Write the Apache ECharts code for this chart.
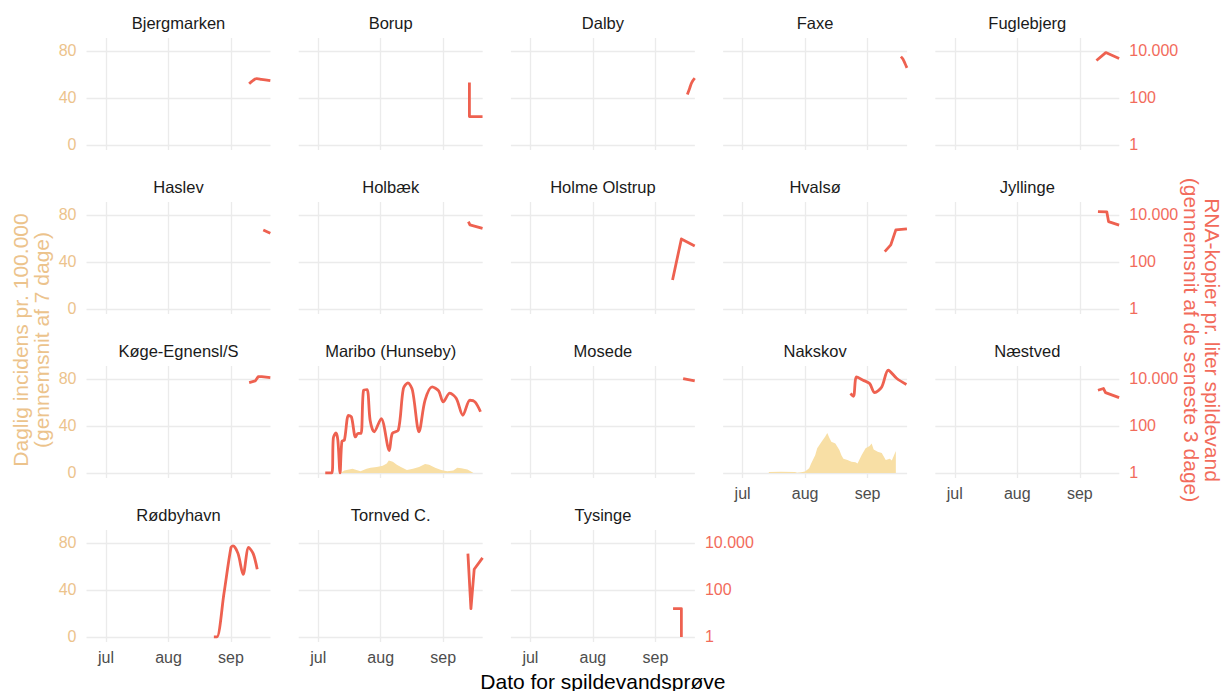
<!DOCTYPE html>
<html>
<head>
<meta charset="utf-8">
<script src="https://cdn.jsdelivr.net/npm/echarts@6/dist/echarts.min.js"></script>
<style>
  html, body { margin: 0; padding: 0; background: #ffffff; }
  #chart { width: 1227px; height: 691px; }
</style>
</head>
<body>
<div id="chart"></div>
<script>
// ---- data -----------------------------------------------------------------
const stations = [
  'Bjergmarken', 'Borup', 'Dalby', 'Faxe', 'Fuglebjerg',
  'Haslev', 'Holbæk', 'Holme Olstrup', 'Hvalsø', 'Jyllinge',
  'Køge-Egnensl/S', 'Maribo (Hunseby)', 'Mosede', 'Nakskov', 'Næstved',
  'Rødbyhavn', 'Tornved C.', 'Tysinge'
];

const monthTicks = ['2021-07-01', '2021-08-01', '2021-09-01'];
const monthNames = ['jan', 'feb', 'mar', 'apr', 'maj', 'jun', 'jul', 'aug', 'sep', 'okt', 'nov', 'dec'];
const incidenceTicks = [0, 40, 80];
const rnaTicks = [1, 100, 10000];

// RNA copies per litre of wastewater (3-day average)
const rnaBjergmarken = [['2021-09-10', 400], ['2021-09-12', 560], ['2021-09-13 18:00', 660], ['2021-09-16', 620], ['2021-09-20 12:00', 540]];
const rnaBorup = [['2021-09-14', 450], ['2021-09-14', 16], ['2021-09-20 12:00', 16]];
const rnaDalby = [['2021-09-16 20:00', 140], ['2021-09-18', 260], ['2021-09-19', 450], ['2021-09-20 12:00', 700]];
const rnaFaxe = [['2021-09-17 12:00', 5700], ['2021-09-18 12:00', 4500], ['2021-09-19 12:00', 3000], ['2021-09-20 12:00', 1900]];
const rnaFuglebjerg = [['2021-09-09 06:00', 3900], ['2021-09-13 21:00', 8500], ['2021-09-20 12:00', 4800]];
const rnaHaslev = [['2021-09-17', 2300], ['2021-09-20 12:00', 1650]];
const rnaHolbaek = [['2021-09-13 12:00', 5200], ['2021-09-14 06:00', 3800], ['2021-09-20 12:00', 2700]];
const rnaHolmeOlstrup = [['2021-09-09 12:00', 17], ['2021-09-13 21:00', 950], ['2021-09-20 12:00', 480]];
const rnaHvalsoe = [['2021-09-09 12:00', 275], ['2021-09-12 12:00', 530], ['2021-09-15', 2300], ['2021-09-20 12:00', 2550]];
const rnaJyllinge = [['2021-09-10', 13800], ['2021-09-14 09:00', 13500], ['2021-09-15 06:00', 5200], ['2021-09-20 12:00', 3700]];
const rnaKoege = [['2021-09-10', 7000], ['2021-09-13', 8200], ['2021-09-14 12:00', 12500], ['2021-09-16 06:00', 12500], ['2021-09-20 12:00', 11300]];
const rnaMaribo = [
  ['2021-07-04 12:00', 1], ['2021-07-07 18:00', 1], ['2021-07-08 12:00', 30], ['2021-07-09 18:00', 50],
  ['2021-07-10 18:00', 25], ['2021-07-11 20:00', 1], ['2021-07-12 18:00', 22], ['2021-07-14', 25],
  ['2021-07-16', 280], ['2021-07-17 12:00', 240], ['2021-07-19 12:00', 34], ['2021-07-20 18:00', 48],
  ['2021-07-22 06:00', 48], ['2021-07-23 12:00', 3300], ['2021-07-25 06:00', 3500], ['2021-07-26 18:00', 175],
  ['2021-07-28 18:00', 56], ['2021-08-01 06:00', 206], ['2021-08-05 06:00', 9], ['2021-08-06 18:00', 48],
  ['2021-08-09 18:00', 66], ['2021-08-12 06:00', 3900], ['2021-08-14 12:00', 6800], ['2021-08-16 18:00', 3300],
  ['2021-08-20', 56], ['2021-08-23', 1240], ['2021-08-26 12:00', 4600], ['2021-08-29 18:00', 3100],
  ['2021-09-01', 1050], ['2021-09-04 06:00', 2500], ['2021-09-07 12:00', 1470], ['2021-09-10 18:00', 285],
  ['2021-09-14 06:00', 1240], ['2021-09-16 18:00', 1050], ['2021-09-19 12:00', 400]
];
const rnaMosede = [['2021-09-14 18:00', 10400], ['2021-09-20 12:00', 8300]];
const rnaNakskov = [
  ['2021-08-23 12:00', 2400], ['2021-08-25', 1830], ['2021-08-26 12:00', 12200], ['2021-08-29 18:00', 8800],
  ['2021-09-02', 6350], ['2021-09-04 12:00', 2640], ['2021-09-08', 4570], ['2021-09-11 06:00', 23400],
  ['2021-09-15 12:00', 10400], ['2021-09-20 06:00', 5770]
];
const rnaNaestved = [['2021-09-10', 3300], ['2021-09-12 18:00', 3900], ['2021-09-13 18:00', 2600], ['2021-09-20 12:00', 1600]];
const rnaRoedbyhavn = [
  ['2021-08-23 12:00', 1], ['2021-08-25', 1], ['2021-08-28 12:00', 70], ['2021-09-01', 6500], ['2021-09-02', 7500],
  ['2021-09-04 12:00', 3500], ['2021-09-07', 460], ['2021-09-09 18:00', 6400], ['2021-09-12', 3500],
  ['2021-09-14', 760]
];
const rnaTornved = [['2021-09-13 06:00', 3500], ['2021-09-14 18:00', 16], ['2021-09-16 09:00', 760], ['2021-09-20 12:00', 2300]];
const rnaTysinge = [['2021-09-09 18:00', 16], ['2021-09-13 21:00', 16], ['2021-09-13 21:00', 1]];

// Daily incidence per 100,000 (7-day average)
const incidenceMaribo = [
  ['2021-07-12', 0], ['2021-07-14', 2], ['2021-07-18', 3.5], ['2021-07-20', 2.5], ['2021-07-22', 1.5],
  ['2021-07-25', 3.5], ['2021-07-27', 4.5], ['2021-07-30', 5], ['2021-08-02', 6], ['2021-08-04', 8],
  ['2021-08-05', 10.5], ['2021-08-07', 9.5], ['2021-08-09', 7], ['2021-08-11', 5], ['2021-08-14', 2.5],
  ['2021-08-17', 3.5], ['2021-08-20', 5], ['2021-08-23', 7.5], ['2021-08-25', 7], ['2021-08-28', 4.5],
  ['2021-08-31', 2.5], ['2021-09-03', 1.5], ['2021-09-06', 2], ['2021-09-08', 4.5], ['2021-09-10', 4],
  ['2021-09-13', 3], ['2021-09-15', 1], ['2021-09-16', 0]
];
const incidenceNakskov = [
  ['2021-07-14', 0.8], ['2021-07-20', 0.9], ['2021-07-27', 0.8], ['2021-07-28', 0.2], ['2021-07-30', 0.5],
  ['2021-08-01', 1.2], ['2021-08-03', 4], ['2021-08-04', 8], ['2021-08-06', 15], ['2021-08-07', 21],
  ['2021-08-09', 26], ['2021-08-11', 31], ['2021-08-12', 34], ['2021-08-13', 30], ['2021-08-14', 26.5],
  ['2021-08-16', 25], ['2021-08-18', 19.5], ['2021-08-19', 15], ['2021-08-20', 12], ['2021-08-22', 11],
  ['2021-08-24', 9.5], ['2021-08-26', 9], ['2021-08-27', 8], ['2021-08-29', 15], ['2021-08-31', 21],
  ['2021-09-02', 23], ['2021-09-03', 25], ['2021-09-04', 20], ['2021-09-06', 18], ['2021-09-08', 17],
  ['2021-09-10', 11], ['2021-09-12', 12], ['2021-09-13', 10.5], ['2021-09-15', 18.7]
];

const rnaByStation = [
  rnaBjergmarken, rnaBorup, rnaDalby, rnaFaxe, rnaFuglebjerg,
  rnaHaslev, rnaHolbaek, rnaHolmeOlstrup, rnaHvalsoe, rnaJyllinge,
  rnaKoege, rnaMaribo, rnaMosede, rnaNakskov, rnaNaestved,
  rnaRoedbyhavn, rnaTornved, rnaTysinge
];
const incidenceByStation = { 'Maribo (Hunseby)': incidenceMaribo, 'Nakskov': incidenceNakskov };
const curvedStations = ['Maribo (Hunseby)', 'Nakskov', 'Rødbyhavn', 'Dalby', 'Faxe', 'Bjergmarken'];

// ---- helpers --------------------------------------------------------------
function toTime(s) {
  const parts = s.split(' ');
  const d = parts[0].split('-').map(Number);
  const h = (parts[1] || '0:0').split(':').map(Number);
  return new Date(d[0], d[1] - 1, d[2], h[0], h[1]).getTime();
}
const asPoints = arr => arr.map(p => [toTime(p[0]), p[1]]);
const thousands = v => String(Math.round(v)).replace(/\B(?=(\d{3})+(?!\d))/g, '.');

// ---- layout & style -------------------------------------------------------
const FONT = '"Liberation Sans", Arial, sans-serif';
const LINE_RED = '#EE6150';
const RIGHT_RED = '#F26B5B';
const AREA_YELLOW = '#F8DFA5';
const LEFT_TAN = '#ECC38C';
const GRID_GREY = '#EBEBEB';

const nCols = 5;
const panelW = 184, panelH = 112;
const colStart = 86.5, colStep = 212.2;
const rowTops = [38, 202, 366, 530];

// the date axis is a plain numeric axis over millisecond timestamps
const xMin = toTime('2021-06-21 08:00');
const xMax = toTime('2021-09-20 14:00');
const incMin = -4.33, incMax = 91;            // left scale (incidence)
const rnaMin = Math.pow(10, incMin / 20);      // right scale aligned with left: 20 per decade
const rnaMax = Math.pow(10, incMax / 20);
const monthTickTimes = monthTicks.map(toTime);

const grids = [], xAxes = [], yAxes = [], series = [], graphics = [];

stations.forEach((name, i) => {
  const row = Math.floor(i / nCols), col = i % nCols;
  const left = colStart + col * colStep, top = rowTops[row];
  const lastInRow = col === nCols - 1 || i === stations.length - 1;
  const bottomOfCol = (i + nCols) >= stations.length;

  grids.push({ left: left, top: top, width: panelW, height: panelH, containLabel: false });

  xAxes.push({
    type: 'value', gridIndex: i, min: xMin, max: xMax, scale: true,
    axisLine: { show: false },
    axisTick: { show: false, customValues: monthTickTimes },
    splitLine: { show: true, lineStyle: { color: GRID_GREY, width: 1.3 } },
    axisLabel: {
      show: bottomOfCol, customValues: monthTickTimes, margin: 7,
      color: '#4D4D4D', fontSize: 16, fontFamily: FONT,
      formatter: v => monthNames[new Date(v).getMonth()]
    }
  });

  yAxes.push({
    type: 'value', gridIndex: i, min: incMin, max: incMax, position: 'left',
    axisLine: { show: false },
    axisTick: { show: false, customValues: incidenceTicks },
    splitLine: { show: true, lineStyle: { color: GRID_GREY, width: 1.3 } },
    axisLabel: {
      show: col === 0, customValues: incidenceTicks, margin: 10,
      color: LEFT_TAN, fontSize: 16, fontFamily: FONT
    }
  });
  yAxes.push({
    type: 'log', logBase: 10, gridIndex: i, min: rnaMin, max: rnaMax, position: 'right',
    axisLine: { show: false },
    axisTick: { show: false, customValues: rnaTicks },
    splitLine: { show: false },
    axisLabel: {
      show: lastInRow, customValues: rnaTicks, margin: 10,
      color: RIGHT_RED, fontSize: 16, fontFamily: FONT,
      formatter: v => thousands(v)
    }
  });

  const inc = incidenceByStation[name];
  if (inc) {
    series.push({
      type: 'line', name: name + ' incidens', xAxisIndex: i, yAxisIndex: 2 * i,
      data: asPoints(inc), showSymbol: false, silent: true, z: 1,
      lineStyle: { width: 0 },
      areaStyle: { color: AREA_YELLOW, opacity: 1 }
    });
  }
  series.push({
    type: 'line', name: name + ' RNA', xAxisIndex: i, yAxisIndex: 2 * i + 1,
    data: asPoints(rnaByStation[i]), showSymbol: false, silent: true, z: 3,
    smooth: curvedStations.includes(name) ? 0.3 : false,
    lineStyle: { color: LINE_RED, width: 2.8, cap: 'butt', join: 'round' }
  });

  graphics.push({
    type: 'text', x: left + panelW / 2, y: top - 15.5, silent: true,
    style: { text: name, fill: '#1A1A1A', fontSize: 16.5, fontFamily: FONT, align: 'center', verticalAlign: 'middle' }
  });
});

// axis titles
const plotCenterX = colStart + (colStep * (nCols - 1) + panelW) / 2;
const plotCenterY = (rowTops[0] + rowTops[3] + panelH) / 2;
graphics.push(
  { type: 'text', x: plotCenterX, y: 681, silent: true,
    style: { text: 'Dato for spildevandsprøve', fill: '#000000', fontSize: 21, fontFamily: FONT, align: 'center', verticalAlign: 'middle' } },
  { type: 'text', x: 20, y: plotCenterY, rotation: Math.PI / 2, silent: true,
    style: { text: 'Daglig incidens pr. 100.000', fill: LEFT_TAN, fontSize: 21, fontFamily: FONT, align: 'center', verticalAlign: 'middle' } },
  { type: 'text', x: 41, y: plotCenterY, rotation: Math.PI / 2, silent: true,
    style: { text: '(gennemsnit af 7 dage)', fill: LEFT_TAN, fontSize: 21, fontFamily: FONT, align: 'center', verticalAlign: 'middle' } },
  { type: 'text', x: 1212, y: plotCenterY, rotation: -Math.PI / 2, silent: true,
    style: { text: 'RNA-kopier pr. liter spildevand', fill: RIGHT_RED, fontSize: 21, fontFamily: FONT, align: 'center', verticalAlign: 'middle' } },
  { type: 'text', x: 1191, y: plotCenterY, rotation: -Math.PI / 2, silent: true,
    style: { text: '(gennemsnit af de seneste 3 dage)', fill: RIGHT_RED, fontSize: 21, fontFamily: FONT, align: 'center', verticalAlign: 'middle' } }
);

const chart = echarts.init(document.getElementById('chart'), null, { renderer: 'svg' });
chart.setOption({
  animation: false,
  backgroundColor: '#ffffff',
  grid: grids,
  xAxis: xAxes,
  yAxis: yAxes,
  series: series,
  graphic: graphics
});
</script>
</body>
</html>
